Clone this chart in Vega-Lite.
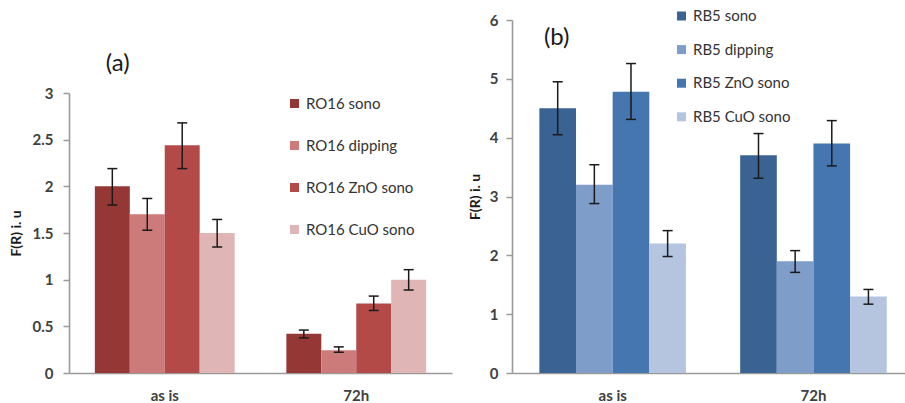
{
  "$schema": "https://vega.github.io/schema/vega-lite/v6.json",
  "background": "white",
  "padding": {"left": 9, "top": 8, "right": 0, "bottom": 0},
  "spacing": 16,
  "config": {
    "view": {"stroke": null},
    "font": "Lato",
    "axis": {
      "grid": false,
      "domainColor": "#9a9a9a",
      "domainWidth": 1.6,
      "tickColor": "#9a9a9a",
      "tickWidth": 1.5,
      "tickSize": 6,
      "labelColor": "#404040",
      "labelFont": "Lato",
      "labelFontSize": 15,
      "labelFontWeight": "bold",
      "titleFont": "Lato",
      "titleFontSize": 14,
      "titleFontWeight": "bold",
      "titleColor": "#1a1a1a"
    },
    "legend": {
      "labelFont": "Lato",
      "labelFontSize": 15,
      "labelColor": "#333333",
      "symbolType": "square",
      "symbolSize": 81,
      "symbolStrokeWidth": 0,
      "padding": 0,
      "labelOffset": 4
    }
  },
  "datasets": {
    "a": [
      {"time": "as is", "series": "RO16 sono", "value": 2.0, "lo": 1.80, "hi": 2.19},
      {"time": "as is", "series": "RO16 dipping", "value": 1.70, "lo": 1.53, "hi": 1.87},
      {"time": "as is", "series": "RO16 ZnO sono", "value": 2.44, "lo": 2.19, "hi": 2.68},
      {"time": "as is", "series": "RO16 CuO sono", "value": 1.50, "lo": 1.35, "hi": 1.645},
      {"time": "72h", "series": "RO16 sono", "value": 0.42, "lo": 0.376, "hi": 0.46},
      {"time": "72h", "series": "RO16 dipping", "value": 0.245, "lo": 0.222, "hi": 0.28},
      {"time": "72h", "series": "RO16 ZnO sono", "value": 0.745, "lo": 0.67, "hi": 0.824},
      {"time": "72h", "series": "RO16 CuO sono", "value": 1.0, "lo": 0.889, "hi": 1.107}
    ],
    "b": [
      {"time": "as is", "series": "RB5 sono", "value": 4.5, "lo": 4.05, "hi": 4.95},
      {"time": "as is", "series": "RB5 dipping", "value": 3.2, "lo": 2.88, "hi": 3.54},
      {"time": "as is", "series": "RB5 ZnO sono", "value": 4.78, "lo": 4.31, "hi": 5.26},
      {"time": "as is", "series": "RB5 CuO sono", "value": 2.2, "lo": 1.98, "hi": 2.42},
      {"time": "72h", "series": "RB5 sono", "value": 3.7, "lo": 3.31, "hi": 4.07},
      {"time": "72h", "series": "RB5 dipping", "value": 1.9, "lo": 1.71, "hi": 2.08},
      {"time": "72h", "series": "RB5 ZnO sono", "value": 3.9, "lo": 3.52, "hi": 4.29},
      {"time": "72h", "series": "RB5 CuO sono", "value": 1.3, "lo": 1.17, "hi": 1.42}
    ]
  },
  "resolve": {"scale": {"x": "independent", "y": "independent", "color": "independent", "xOffset": "independent"}, "legend": {"color": "independent"}},
  "hconcat": [
    {
      "width": 383,
      "height": 353,
      "data": {"name": "a"},
      "encoding": {
        "x": {"field": "time", "type": "nominal", "sort": ["as is", "72h"],
              "scale": {"paddingInner": 0.27, "paddingOuter": 0.135},
              "axis": {"title": null, "labelAngle": 0, "ticks": false, "labelPadding": 15}}
      },
      "layer": [
        {
          "mark": {"type": "bar"},
          "encoding": {
            "xOffset": {"field": "series", "type": "nominal", "sort": ["RO16 sono", "RO16 dipping", "RO16 ZnO sono", "RO16 CuO sono"]},
            "y": {"field": "value", "type": "quantitative",
                  "scale": {"domain": [0, 3], "range": [353, 73], "nice": false, "zero": true},
                  "axis": {"title": "F(R) i. u", "values": [0, 0.5, 1, 1.5, 2, 2.5, 3], "format": "~g", "labelPadding": 10, "titlePadding": 9}},
            "color": {"field": "series", "type": "nominal",
                      "sort": ["RO16 sono", "RO16 dipping", "RO16 ZnO sono", "RO16 CuO sono"],
                      "scale": {"domain": ["RO16 sono", "RO16 dipping", "RO16 ZnO sono", "RO16 CuO sono"],
                                "range": ["#953735", "#CD7B7A", "#B44A48", "#E0B5B5"]},
                      "legend": {"title": null, "orient": "none", "legendX": 218, "legendY": 76, "rowPadding": 26}}
          }
        },
        {
          "mark": {"type": "rule", "color": "#1a1a1a", "strokeWidth": 1.5},
          "encoding": {
            "xOffset": {"field": "series", "type": "nominal", "sort": ["RO16 sono", "RO16 dipping", "RO16 ZnO sono", "RO16 CuO sono"]},
            "y": {"field": "lo", "type": "quantitative"},
            "y2": {"field": "hi"}
          }
        },
        {
          "mark": {"type": "tick", "color": "#1a1a1a", "thickness": 1.5, "size": 10, "opacity": 1},
          "encoding": {
            "xOffset": {"field": "series", "type": "nominal", "sort": ["RO16 sono", "RO16 dipping", "RO16 ZnO sono", "RO16 CuO sono"]},
            "y": {"field": "lo", "type": "quantitative"}
          }
        },
        {
          "mark": {"type": "tick", "color": "#1a1a1a", "thickness": 1.5, "size": 10, "opacity": 1},
          "encoding": {
            "xOffset": {"field": "series", "type": "nominal", "sort": ["RO16 sono", "RO16 dipping", "RO16 ZnO sono", "RO16 CuO sono"]},
            "y": {"field": "hi", "type": "quantitative"}
          }
        },
        {
          "data": {"values": [{}]},
          "mark": {"type": "text", "text": "(a)", "fontSize": 24, "font": "Lato", "color": "#1a1a1a", "dx": -47},
          "encoding": {
            "x": {"datum": "as is"},
            "y": {"datum": 3.31, "type": "quantitative"}
          }
        }
      ]
    },
    {
      "width": 393,
      "height": 353,
      "data": {"name": "b"},
      "encoding": {
        "x": {"field": "time", "type": "nominal", "sort": ["as is", "72h"],
              "scale": {"paddingInner": 0.27, "paddingOuter": 0.1136, "align": 0.6},
              "axis": {"title": null, "labelAngle": 0, "ticks": false, "labelPadding": 15}}
      },
      "layer": [
        {
          "mark": {"type": "bar"},
          "encoding": {
            "xOffset": {"field": "series", "type": "nominal", "sort": ["RB5 sono", "RB5 dipping", "RB5 ZnO sono", "RB5 CuO sono"]},
            "y": {"field": "value", "type": "quantitative",
                  "scale": {"domain": [0, 6], "nice": false},
                  "axis": {"title": "F(R) i. u", "values": [0, 1, 2, 3, 4, 5, 6], "format": "~g", "labelPadding": 8, "titlePadding": 7}},
            "color": {"field": "series", "type": "nominal",
                      "sort": ["RB5 sono", "RB5 dipping", "RB5 ZnO sono", "RB5 CuO sono"],
                      "scale": {"domain": ["RB5 sono", "RB5 dipping", "RB5 ZnO sono", "RB5 CuO sono"],
                                "range": ["#3A6394", "#7F9DC9", "#4676B0", "#B5C4DF"]},
                      "legend": {"title": null, "orient": "none", "legendX": 162, "legendY": -11.5, "rowPadding": 17.6}}
          }
        },
        {
          "mark": {"type": "rule", "color": "#1a1a1a", "strokeWidth": 1.5},
          "encoding": {
            "xOffset": {"field": "series", "type": "nominal", "sort": ["RB5 sono", "RB5 dipping", "RB5 ZnO sono", "RB5 CuO sono"]},
            "y": {"field": "lo", "type": "quantitative"},
            "y2": {"field": "hi"}
          }
        },
        {
          "mark": {"type": "tick", "color": "#1a1a1a", "thickness": 1.5, "size": 10, "opacity": 1},
          "encoding": {
            "xOffset": {"field": "series", "type": "nominal", "sort": ["RB5 sono", "RB5 dipping", "RB5 ZnO sono", "RB5 CuO sono"]},
            "y": {"field": "lo", "type": "quantitative"}
          }
        },
        {
          "mark": {"type": "tick", "color": "#1a1a1a", "thickness": 1.5, "size": 10, "opacity": 1},
          "encoding": {
            "xOffset": {"field": "series", "type": "nominal", "sort": ["RB5 sono", "RB5 dipping", "RB5 ZnO sono", "RB5 CuO sono"]},
            "y": {"field": "hi", "type": "quantitative"}
          }
        },
        {
          "data": {"values": [{}]},
          "mark": {"type": "text", "text": "(b)", "fontSize": 24, "font": "Lato", "color": "#1a1a1a", "dx": -56},
          "encoding": {
            "x": {"datum": "as is"},
            "y": {"datum": 5.7, "type": "quantitative"}
          }
        }
      ]
    }
  ]
}
